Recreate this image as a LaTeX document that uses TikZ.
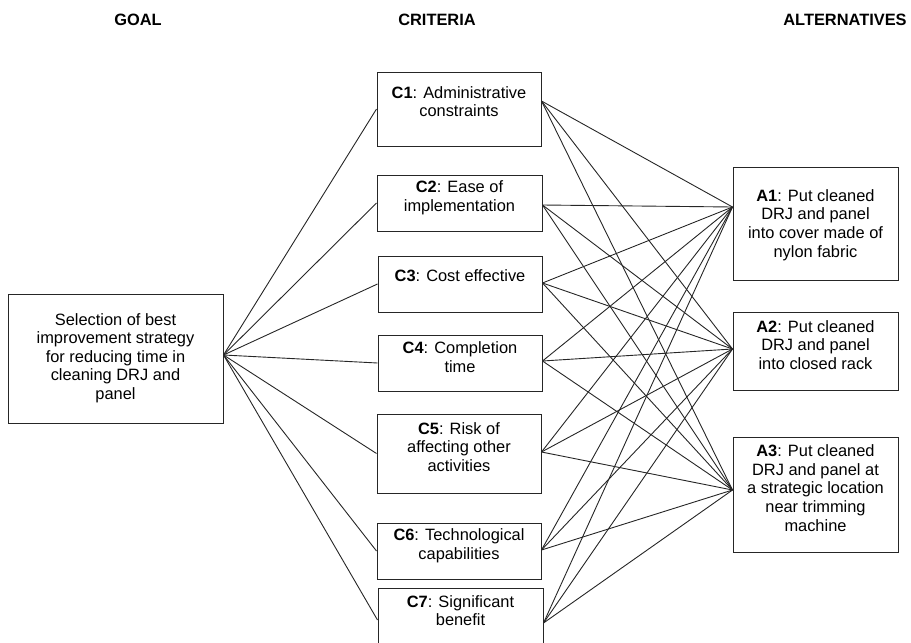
\documentclass[tikz,border=0pt]{standalone}
\usepackage{fontspec}
\setmainfont{Liberation Sans}
\begin{document}
\begin{tikzpicture}[x=1pt,y=-1pt,
    box/.style={draw=black!85,line width=1pt,inner sep=0pt},
    txt/.style={align=center,inner sep=0pt,font=\fontsize{16.4}{18.6}\selectfont},
    head/.style={inner sep=0pt,font=\fontsize{16.4}{18.6}\selectfont\bfseries},
    link/.style={line width=0.9pt,black!85}]
    \useasboundingbox (0,0) rectangle (911,643);
    \clip (0,0) rectangle (911,643);

    % headings
    \node[head] (hgoal) at (138,20) {GOAL};
    \node[head] (hcrit) at (437,20) {CRITERIA};
    \node[head] (halt) at (845,20) {ALTERNATIVES};

    % goal
    \node[box,minimum width=215pt,minimum height=129pt] (goal) at (115.5,358.5) {};
    \node[txt] (goaltxt) at (115.5,358) {Selection of best\\improvement strategy\\for reducing time in\\cleaning DRJ and\\panel};

    % criteria
    \node[box,minimum width=164pt,minimum height=74pt] (c1) at (459,109) {};
    \node[box,minimum width=165pt,minimum height=56pt] (c2) at (459.5,203) {};
    \node[box,minimum width=164pt,minimum height=56pt] (c3) at (460,284) {};
    \node[box,minimum width=164pt,minimum height=56pt] (c4) at (460,363) {};
    \node[box,minimum width=164pt,minimum height=79pt] (c5) at (459,453.5) {};
    \node[box,minimum width=164pt,minimum height=56pt] (c6) at (459,551) {};
    \node[box,minimum width=165pt,minimum height=64pt] (c7) at (460.5,620) {};

    \node[txt] (c1txt) at (459,101.5) {\textbf{C1}: Administrative\\constraints};
    \node[txt] (c2txt) at (459.5,197.5) {\textbf{C2}: Ease of\\implementation};
    \node[txt] (c3txt) at (460,276) {\textbf{C3}: Cost effective};
    \node[txt] (c4txt) at (460,357) {\textbf{C4}: Completion\\time};
    \node[txt] (c5txt) at (459,447) {\textbf{C5}: Risk of\\affecting other\\activities};
    \node[txt] (c6txt) at (459,545.5) {\textbf{C6}: Technological\\capabilities};
    \node[txt] (c7txt) at (460.5,610.5) {\textbf{C7}: Significant\\benefit};

    % alternatives
    \node[box,minimum width=165pt,minimum height=113pt] (a1) at (815.5,223.5) {};
    \node[box,minimum width=165pt,minimum height=78pt] (a2) at (815.5,351) {};
    \node[box,minimum width=165pt,minimum height=115pt] (a3) at (815.5,494.5) {};

    \node[txt] (a1txt) at (815.5,225) {\textbf{A1}: Put cleaned\\DRJ and panel\\into cover made of\\nylon fabric};
    \node[txt] (a2txt) at (815.5,345) {\textbf{A2}: Put cleaned\\DRJ and panel\\into closed rack};
    \node[txt] (a3txt) at (815.5,488) {\textbf{A3}: Put cleaned\\DRJ and panel at\\a strategic location\\near trimming\\machine};

    % ports
    \coordinate (gr) at ([yshift=3.5pt]goal.east);
    \foreach \c/\s in {c1/8,c2/-2,c3/1,c4/2,c5/1.5,c6/1,c7/-3}
        \coordinate (\c r) at ([yshift=\s pt]\c.east);
    \foreach \a/\s in {a1/16.5,a2/2,a3/4.5}
        \coordinate (\a l) at ([yshift=\s pt]\a.west);

    % links
    \foreach \c in {c1,c2,c3,c4,c5,c6,c7}
        \draw[link] (gr) -- (\c.west);
    \foreach \c in {c1,c2,c3,c4,c5,c6,c7}
        \foreach \a in {a1,a2,a3}
            \draw[link] (\c r) -- (\a l);

\end{tikzpicture}
\end{document}
